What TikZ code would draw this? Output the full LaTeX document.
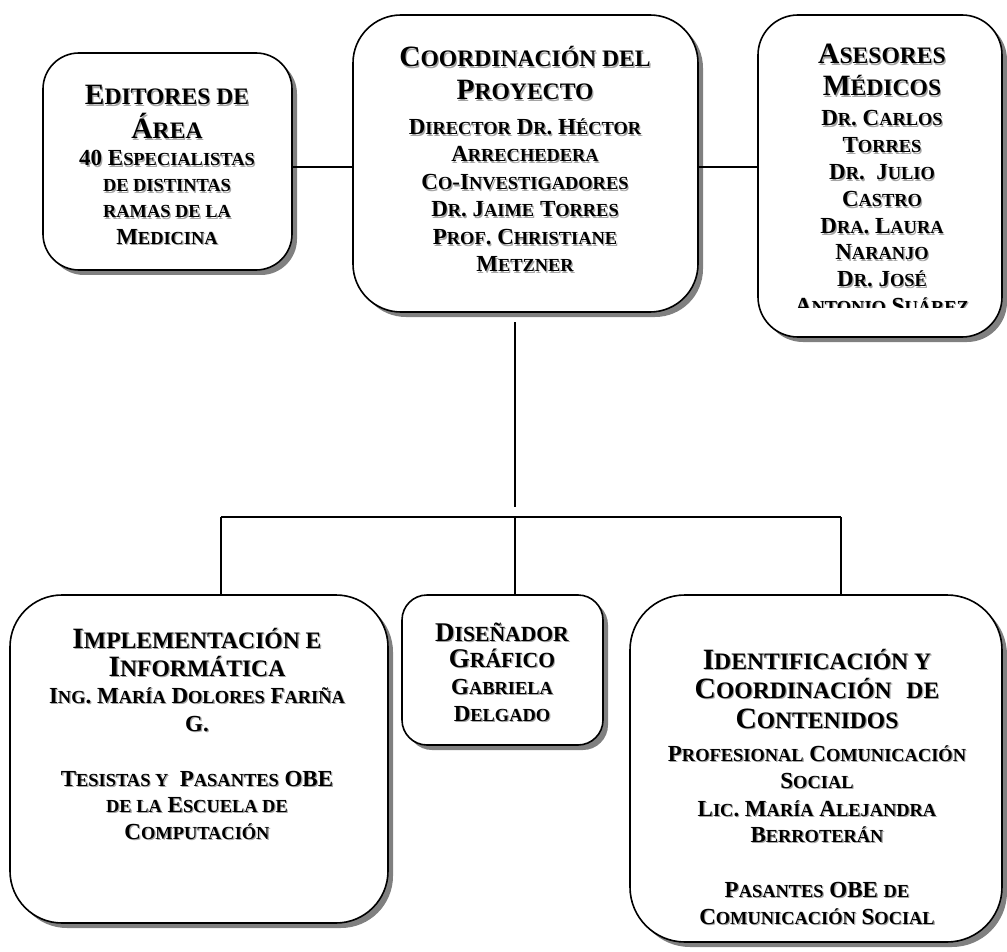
\documentclass[tikz,border=0pt]{standalone}
\usepackage{fontspec}
\setmainfont{Liberation Serif}
\newfontfamily\smf[Scale=0.8]{Liberation Serif}
\usetikzlibrary{shadows}
\definecolor{shadowgray}{RGB}{128,128,128}
\definecolor{txtshadow}{RGB}{165,165,165}
\newcommand\Sm[1]{{\smf\bfseries #1}}
\newcommand\Sh[1]{\rlap{\raisebox{-1.2pt}{\kern1.2pt\color{txtshadow}#1}}#1}
\newcommand\Tt{\fontsize{29.5}{30}\selectfont\bfseries}
\newcommand\Td{\fontsize{27}{28}\selectfont\bfseries}
\newcommand\Bd{\fontsize{23}{25}\selectfont\bfseries}
\tikzset{
  box/.style={draw=black, line width=1.6pt, fill=white, rounded corners=#1, inner sep=0pt,
    drop shadow={shadow xshift=5pt, shadow yshift=-5pt, opacity=1, fill=shadowgray}},
  conn/.style={line width=1.5pt},
  tl/.style={anchor=base, inner sep=0pt, font=\Tt},
  tld/.style={anchor=base, inner sep=0pt, font=\Td},
  bl/.style={anchor=base, inner sep=0pt, font=\Bd},
}
\begin{document}
\begin{tikzpicture}[x=1pt,y=-1pt]
\useasboundingbox (0,0) rectangle (1007,952);
% boxes
\node[box=36pt, minimum width=249pt, minimum height=217pt] (edit) at (167.5,161.5) {};
\node[box=48pt, minimum width=345pt, minimum height=297pt] (coord) at (525.5,163.5) {};
\node[box=40pt, minimum width=244pt, minimum height=322pt] (ases) at (880,176) {};
\node[box=52pt, minimum width=378pt, minimum height=328pt] (impl) at (199,759) {};
\node[box=25pt, minimum width=201pt, minimum height=150pt] (dis) at (502.5,670) {};
\node[box=55pt, minimum width=372pt, minimum height=347pt] (ident) at (816,768.5) {};
% connectors
\coordinate (lj) at (0,167);
\draw[conn] (edit.east |- lj) -- (coord.west |- lj);
\draw[conn] (coord.east |- lj) -- (ases.west |- lj);
\coordinate (vt) at (515,322);
\coordinate (vb) at (515,507);
\draw[conn] (vt) -- (vb);
\coordinate (hl) at (221,517);
\coordinate (hr) at (841,517);
\coordinate (hm) at (515,517);
\draw[conn] (hl) -- (hr);
\draw[conn] (hl) -- (impl.north -| hl);
\draw[conn] (hm) -- (dis.north -| hm);
\draw[conn] (hr) -- (ident.north -| hr);
% Editores
\node[tl] (e1) at (167,105) {\Sh{E\Sm{DITORES DE}}};
\node[tl] (e2) at (167,139) {\Sh{Á\Sm{REA}}};
\node[bl] (e3) at (167,166) {\Sh{40 E\Sm{SPECIALISTAS}}};
\node[bl] (e4) at (167,192) {\Sh{\Sm{DE DISTINTAS}}};
\node[bl] (e5) at (167,218) {\Sh{\Sm{RAMAS DE LA}}};
\node[bl] (e6) at (167,244) {\Sh{M\Sm{EDICINA}}};
% Coordinacion
\node[tl] (c1) at (525,67) {\Sh{C\Sm{OORDINACIÓN DEL}}};
\node[tl] (c2) at (525,100) {\Sh{P\Sm{ROYECTO}}};
\node[bl] (c3) at (525,135) {\Sh{D\Sm{IRECTOR} D\Sm{R}. H\Sm{ÉCTOR}}};
\node[bl] (c4) at (525,162) {\Sh{A\Sm{RRECHEDERA}}};
\node[bl] (c5) at (525,190) {\Sh{C\Sm{O}-I\Sm{NVESTIGADORES}}};
\node[bl] (c6) at (525,217) {\Sh{D\Sm{R}. J\Sm{AIME} T\Sm{ORRES}}};
\node[bl] (c7) at (525,245) {\Sh{P\Sm{ROF}. C\Sm{HRISTIANE}}};
\node[bl] (c8) at (525,272) {\Sh{M\Sm{ETZNER}}};
% Asesores
\node[tl] (a1) at (882,64) {\Sh{A\Sm{SESORES}}};
\node[tl] (a2) at (882,96) {\Sh{M\Sm{ÉDICOS}}};
\node[bl] (a3) at (882,126) {\Sh{D\Sm{R}. C\Sm{ARLOS}}};
\node[bl] (a4) at (882,153) {\Sh{T\Sm{ORRES}}};
\node[bl] (a5) at (882,180) {\Sh{D\Sm{R}.\ \ J\Sm{ULIO}}};
\node[bl] (a6) at (882,207) {\Sh{C\Sm{ASTRO}}};
\node[bl] (a7) at (882,234) {\Sh{D\Sm{RA}. L\Sm{AURA}}};
\node[bl] (a8) at (882,260) {\Sh{N\Sm{ARANJO}}};
\node[bl] (a9) at (882,287) {\Sh{D\Sm{R}. J\Sm{OSÉ}}};
\begin{scope}
  \clip (758,15) rectangle (1002,307);
  \node[bl] (a10) at (882,313) {\Sh{A\Sm{NTONIO} S\Sm{UÁREZ}}};
\end{scope}
% Implementacion
\node[tl] (i1) at (197,648) {\Sh{I\Sm{MPLEMENTACIÓN E}}};
\node[tl] (i2) at (197,676) {\Sh{I\Sm{NFORMÁTICA}}};
\node[bl] (i3) at (197,703) {\Sh{I\Sm{NG}. M\Sm{ARÍA} D\Sm{OLORES} F\Sm{ARIÑA}}};
\node[bl] (i4) at (197,731) {\Sh{G.}};
\node[bl] (i5) at (197,786) {\Sh{T\Sm{ESISTAS Y}\ \ P\Sm{ASANTES} OBE}};
\node[bl] (i6) at (197,812) {\Sh{\Sm{DE LA} E\Sm{SCUELA DE}}};
\node[bl] (i7) at (197,839) {\Sh{C\Sm{OMPUTACIÓN}}};
% Disenador
\node[tld] (d1) at (502,641) {\Sh{D\Sm{ISEÑADOR}}};
\node[tld] (d2) at (502,667) {\Sh{G\Sm{RÁFICO}}};
\node[bl] (d3) at (502,694) {\Sh{G\Sm{ABRIELA}}};
\node[bl] (d4) at (502,721) {\Sh{D\Sm{ELGADO}}};
% Identificacion
\node[tl] (n1) at (817,669) {\Sh{I\Sm{DENTIFICACIÓN Y}}};
\node[tl] (n2) at (817,698) {\Sh{C\Sm{OORDINACIÓN}\ \ \Sm{DE}}};
\node[tl] (n3) at (817,728) {\Sh{C\Sm{ONTENIDOS}}};
\node[bl] (n4) at (817,761) {\Sh{P\Sm{ROFESIONAL} C\Sm{OMUNICACIÓN}}};
\node[bl] (n5) at (817,788) {\Sh{S\Sm{OCIAL}}};
\node[bl] (n6) at (817,816) {\Sh{L\Sm{IC}. M\Sm{ARÍA} A\Sm{LEJANDRA}}};
\node[bl] (n7) at (817,842) {\Sh{B\Sm{ERROTERÁN}}};
\node[bl] (n8) at (817,897) {\Sh{P\Sm{ASANTES} OBE \Sm{DE}}};
\node[bl] (n9) at (817,924) {\Sh{C\Sm{OMUNICACIÓN} S\Sm{OCIAL}}};
\end{tikzpicture}
\end{document}
